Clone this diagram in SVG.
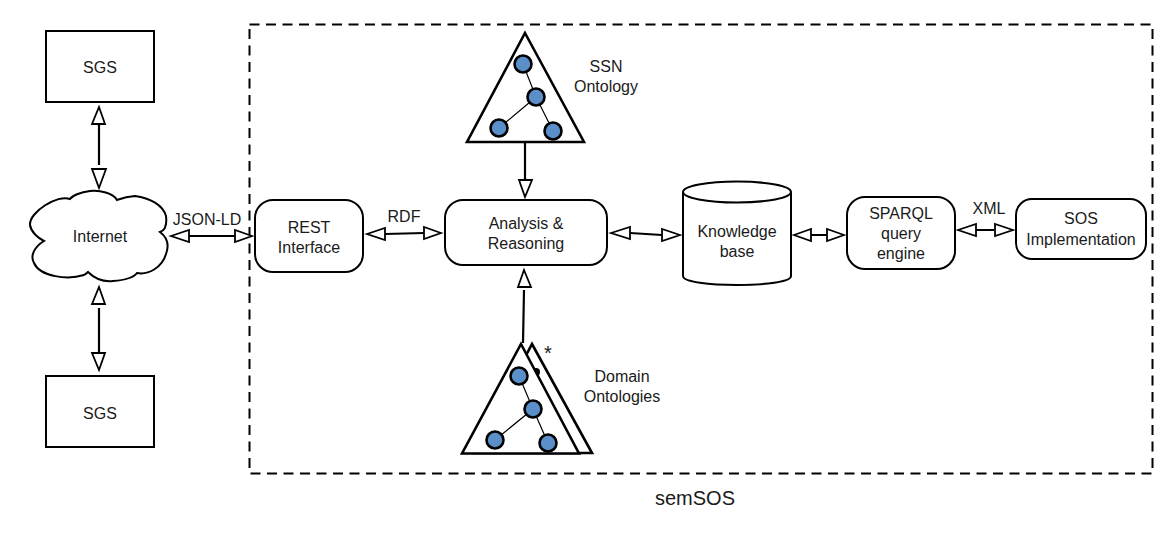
<svg xmlns="http://www.w3.org/2000/svg" width="1174" height="538" viewBox="0 0 1174 538">
<style>
text{font-family:"Liberation Sans",Arial,sans-serif;font-size:16px;fill:#1a1a1a;text-anchor:middle}
.s{fill:#fff;stroke:#000;stroke-width:2}
.t{fill:#fff;stroke:#000;stroke-width:2.6;stroke-linejoin:miter}
.c{fill:#5b8fc9;stroke:#000;stroke-width:2.6}
.l{fill:none;stroke:#000;stroke-width:1.2}
.a{fill:none;stroke:#000;stroke-width:2.2}
.h{fill:#fff;stroke:#000;stroke-width:1.8}
</style>
<g id="semsos-boundary"><rect x="249.500" y="24.500" width="903" height="449" fill="none" stroke="#000" stroke-width="2" stroke-dasharray="10 6.500"/><text x="695" y="505" style="font-size:20px">semSOS</text></g>
<g id="sgs-top"><rect class="s" x="46" y="31" width="108" height="71"/><text x="100" y="73">SGS</text></g>
<g id="sgs-bottom"><rect class="s" x="46" y="376" width="108" height="71"/><text x="100" y="419">SGS</text></g>
<g id="internet"><path class="s" d="M70 199C58 194 29 212 30 225C31 232 38 238 44 241C34 247 30 256 34 263C40 277 68 280 84 275C90 271 86 273 88 272C94 278 103 282 113 281C127 280 134 277 137 273C148 275 162 268 166 254C169 246 168 238 160 232C166 230 167 224 166 216C163 205 150 198 135 196C124 197 120 199 117 200C113 193 100 190 90 191C80 192 72 196 70 199Z"/><text x="100" y="242">Internet</text></g>
<g id="rest"><rect class="s" x="255" y="200" width="108" height="72" rx="18"/><text x="309" y="233">REST</text><text x="309" y="253">Interface</text></g>
<g id="analysis"><rect class="s" x="445" y="200" width="162" height="65" rx="18"/><text x="526" y="229">Analysis &amp;</text><text x="526" y="249">Reasoning</text></g>
<g id="knowledge"><path class="s" d="M683 192V276C683 288 791 288 791 276V192"/><ellipse class="s" cx="737" cy="192" rx="54" ry="10.500"/><text x="737" y="237">Knowledge</text><text x="737" y="257">base</text></g>
<g id="sparql"><rect class="s" x="847" y="197" width="108" height="72" rx="18"/><text x="901" y="219">SPARQL</text><text x="901" y="239">query</text><text x="901" y="259">engine</text></g>
<g id="sos"><rect class="s" x="1016" y="199" width="130" height="60" rx="16"/><text x="1081" y="224">SOS</text><text x="1081" y="245">Implementation</text></g>
<g id="ssn"><path class="t" d="M525 33L584 142H467Z"/><path class="l" d="M523 64L536 97L499 128M536 97L553 131"/><circle class="c" cx="523" cy="64" r="8.500"/><circle class="c" cx="536" cy="97" r="8.500"/><circle class="c" cx="499" cy="128" r="8.500"/><circle class="c" cx="553" cy="131" r="8.500"/><text x="606" y="72">SSN</text><text x="606" y="92">Ontology</text></g>
<g id="domain"><path class="t" d="M532 344L592 453H475Z"/><circle cx="536" cy="372" r="4" fill="#000"/><path class="t" d="M521 344L579 453.500H462Z"/><path class="l" d="M519 376L533 409L495 440M533 409L548 443"/><circle class="c" cx="519" cy="376" r="8.500"/><circle class="c" cx="533" cy="409" r="8.500"/><circle class="c" cx="495" cy="440" r="8.500"/><circle class="c" cx="548" cy="443" r="8.500"/><text x="548" y="360" style="font-size:20px">*</text><text x="622" y="382">Domain</text><text x="622" y="402">Ontologies</text></g>
<g id="connectors">
<path class="a" d="M99 125V165M99 308V352M189 236H236M385 234L424 233M630 233L662 235M811 235H827M976 230H994M525 143V180M523 343L524 290"/>
<path class="h" d="M99 107L105 124H92ZM99 188L92 169H106ZM99 287L105 304H92ZM99 370L92 353H105ZM171 236L189 230V242ZM252 236L235 230V242ZM367 234L385 228V240ZM441 233L424 227V239ZM611 233L630 227V239ZM680 235L662 229V241ZM794 235L811 229V241ZM844 235L827 229V241ZM958 230L976 224V236ZM1013 230L995 224V236ZM525 197L519 180H532ZM524 270L531 287H518Z"/>
<text x="207" y="225">JSON-LD</text><text x="404" y="222">RDF</text><text x="989" y="214">XML</text>
</g>
</svg>
